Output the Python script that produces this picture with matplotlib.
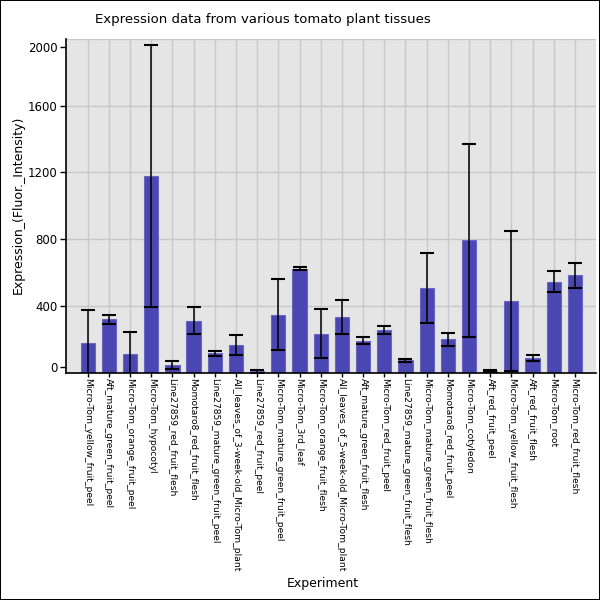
import matplotlib
matplotlib.use("Agg")
import matplotlib.pyplot as plt
import matplotlib.transforms as mtransforms
import numpy as np

# ── Data ──────────────────────────────────────────────────────────────────────
experiments = [
    "Micro-Tom_yellow_fruit_peel",
    "Aft_mature_green_fruit_peel",
    "Micro-Tom_orange_fruit_peel",
    "Micro-Tom_hypocotyl",
    "Line27859_red_fruit_flesh",
    "Momotaro8_red_fruit_flesh",
    "Line27859_mature_green_fruit_peel",
    "All_leaves_of_3-week-old_Micro-Tom_plant",
    "Line27859_red_fruit_peel",
    "Micro-Tom_mature_green_fruit_peel",
    "Micro-Tom_3rd_leaf",
    "Micro-Tom_orange_fruit_flesh",
    "All_leaves_of_5-week-old_Micro-Tom_plant",
    "Aft_mature_green_fruit_flesh",
    "Micro-Tom_red_fruit_peel",
    "Line27859_mature_green_fruit_flesh",
    "Micro-Tom_mature_green_fruit_flesh",
    "Momotaro8_red_fruit_peel",
    "Micro-Tom_cotyledon",
    "Aft_red_fruit_peel",
    "Micro-Tom_yellow_fruit_flesh",
    "Aft_red_fruit_flesh",
    "Micro-Tom_root",
    "Micro-Tom_red_fruit_flesh",
]
expression = [178, 320, 114, 1178, 46, 312, 116, 168, 8, 348,
              624, 234, 334, 192, 256, 74, 506, 200, 794, 12,
              428, 88, 546, 584]
std_dev = [200, 26, 128, 786, 22, 82, 15, 60, 7, 214,
           10, 145, 104, 23, 22, 7, 210, 39, 578, 7,
           418, 20, 64, 74]
y_ticks = [0, 400, 800, 1200, 1600, 2000]

# ── Plot ───────────────────────────────────────────────────────────────────────
fig = plt.figure(figsize=(6, 6), dpi=100)
fig.patch.set_edgecolor("black")
fig.patch.set_linewidth(1.2)
ax = fig.add_axes([0.1095, 0.3788, 0.8833, 0.5567])
ax.set_facecolor("#e5e5e5")

x = np.arange(len(experiments))
ax.bar(x, expression, width=0.67, color="#4b47b2", edgecolor="#6a67c2",
       linewidth=0.8, zorder=2)
ax.errorbar(x, expression, yerr=std_dev, fmt="none", ecolor="black",
            elinewidth=1.1, capsize=4.7, capthick=1.5, zorder=3)

ax.set_xlim(-1.037, 23.98)
ax.set_ylim(0, 2000)
ax.set_yticks(y_ticks)
ax.set_yticklabels([str(v) for v in y_ticks], fontsize=8.5)
ax.set_xticks(x)
ax.set_xticklabels(experiments, rotation=270, fontsize=6.6, va="top", ha="center")
ax.tick_params(axis="y", length=4, width=1, pad=2)
ax.tick_params(axis="x", length=3, width=1, pad=0.5)

ax.grid(True, color="#c8c8c8", linewidth=1, zorder=0)
ax.set_axisbelow(True)
for side in ("top", "right"):
    ax.spines[side].set_visible(False)
for side in ("left", "bottom"):
    ax.spines[side].set_color("black")
    ax.spines[side].set_linewidth(1.2)

# end labels sit just inside the plot area
ticks = ax.yaxis.get_major_ticks()
up = mtransforms.ScaledTranslation(0, 6 / 100, fig.dpi_scale_trans)
down = mtransforms.ScaledTranslation(0, -8 / 100, fig.dpi_scale_trans)
for t, off in ((ticks[0], up), (ticks[-1], down)):
    t.label1.set_transform(t.label1.get_transform() + off)
    t.tick1line.set_transform(t.tick1line.get_transform() + off)

fig.text(262.5 / 600, 1 - 20 / 600, "Expression data from various tomato plant tissues",
         ha="center", va="center", fontsize=9.5)
fig.text(18 / 600, 1 - 205 / 600, "Expression_(Fluor._Intensity)",
         ha="center", va="center", rotation=90, fontsize=9)
fig.text(323 / 600, 1 - 584 / 600, "Experiment", ha="center", va="center", fontsize=9)

fig.savefig("out.png", dpi=100, edgecolor=fig.get_edgecolor())
